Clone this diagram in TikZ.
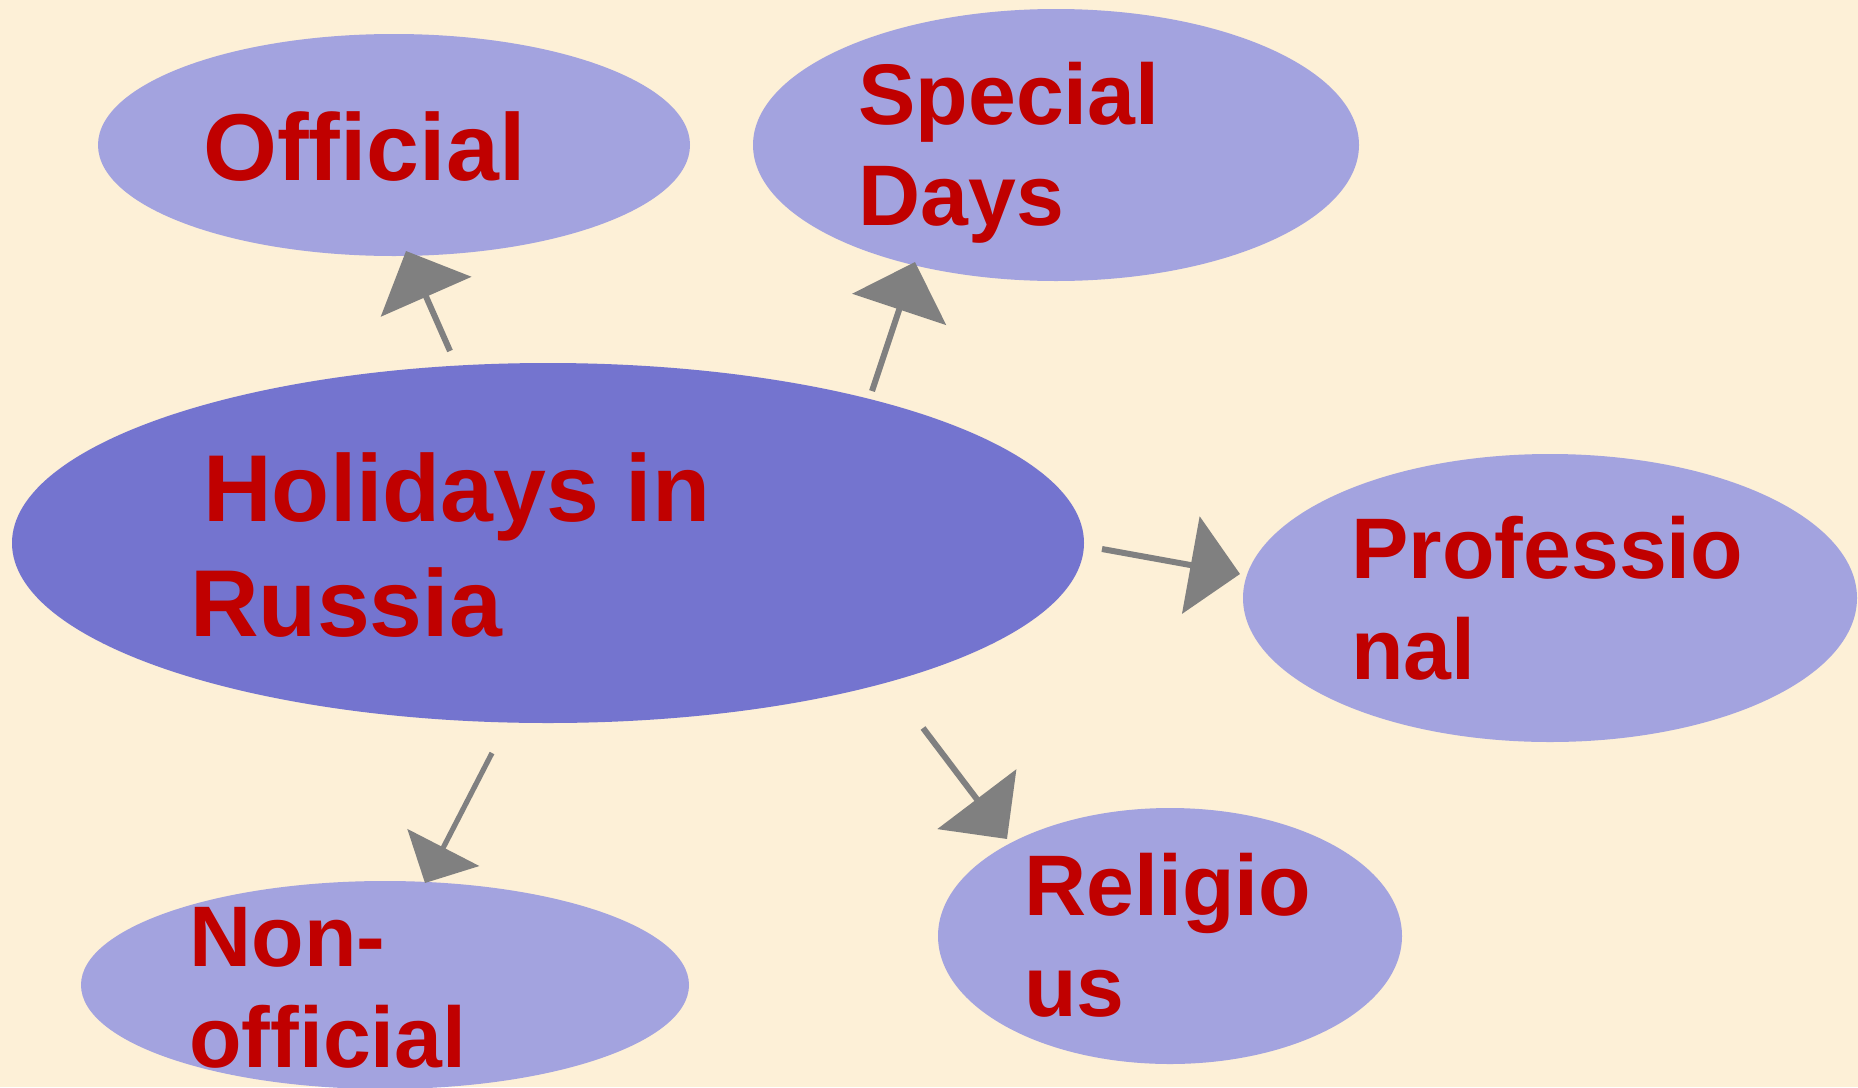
\documentclass[tikz,border=0pt]{standalone}
\usepackage{fontspec}
\setmainfont{Liberation Sans}
\usepackage{tikz}
\usetikzlibrary{positioning, shapes.geometric, arrows.meta}
\definecolor{hrBack}{RGB}{253, 240, 215}
\definecolor{hrLight}{RGB}{163, 163, 223}
\definecolor{hrMain}{RGB}{116, 116, 207}
\definecolor{hrRed}{RGB}{192, 0, 0}
\definecolor{hrGray}{RGB}{128, 128, 128}
\tikzset{
    base/.style={
        font=\bfseries,
        text=hrRed,
        align=left,
        anchor=base west,
        inner sep=0pt
    },
    bigtext/.style={
        base,
        font=\bfseries\fontsize{47.5}{57.5}\selectfont
    },
    smalltext/.style={
        base,
        font=\bfseries\fontsize{43}{50.5}\selectfont
    },
    kind/.style={
        ellipse,
        fill=hrLight,
        inner sep=0pt
    },
    centre/.style={
        ellipse,
        fill=hrMain,
        inner sep=0pt
    },
    flow/.style={
        -{Triangle[length=25pt, width=49pt]},
        line width=3pt,
        color=hrGray
    }
}

\begin{document}
\begin{tikzpicture}[x=0.5pt, y=-0.5pt]
    % Background
    \fill[hrBack] (0,0) rectangle (1858,1087);
    \useasboundingbox (0,0) rectangle (1858,1087);

    % Ellipses
    \node[kind, minimum width=296pt, minimum height=111pt] (official) at (394,145) {};
    \node[kind, minimum width=303pt, minimum height=136pt] (special) at (1056,145) {};
    \node[centre, minimum width=536pt, minimum height=180pt] (holidays) at (548,543) {};
    \node[kind, minimum width=307pt, minimum height=144pt] (professional) at (1550,598) {};
    \node[kind, minimum width=232pt, minimum height=128pt] (religious) at (1170,936) {};
    \node[kind, minimum width=304pt, minimum height=104pt] (nonofficial) at (385,985) {};

    % Labels (base = last line)
    \node[bigtext] (officialText) at (203,180) {Official};
    \node[smalltext] (specialText) at (858,225) {Special\\Days};
    \node[bigtext] (holidaysText) at (190,636) {\hspace{6.5pt}Holidays in\\Russia};
    \node[smalltext] (professionalText) at (1351,679) {Professio\\nal};
    \node[smalltext] (religiousText) at (1024,1016) {Religio\\us};
    \node[smalltext] (nonofficialText) at (189,1067) {Non-\\official};

    % Arrow ends
    \coordinate (tOfficial) at (450,351);
    \coordinate (hOfficial) at (406,251);
    \coordinate (tSpecial) at (872,391);
    \coordinate (hSpecial) at (915,262);
    \coordinate (tProfessional) at (1102,549);
    \coordinate (hProfessional) at (1240,574);
    \coordinate (tReligious) at (923,728);
    \coordinate (hReligious) at (1007,839);
    \coordinate (tNonofficial) at (492,753);
    \coordinate (hNonofficial) at (425,883);

    % Arrows
    \draw[flow] (tOfficial) -- (hOfficial);
    \draw[flow] (tSpecial) -- (hSpecial);
    \draw[flow] (tProfessional) -- (hProfessional);
    \draw[flow] (tReligious) -- (hReligious);
    \draw[flow, line width=2.6pt, -{Triangle[length=20pt, width=40pt]}] (tNonofficial) -- (hNonofficial);
\end{tikzpicture}
\end{document}
